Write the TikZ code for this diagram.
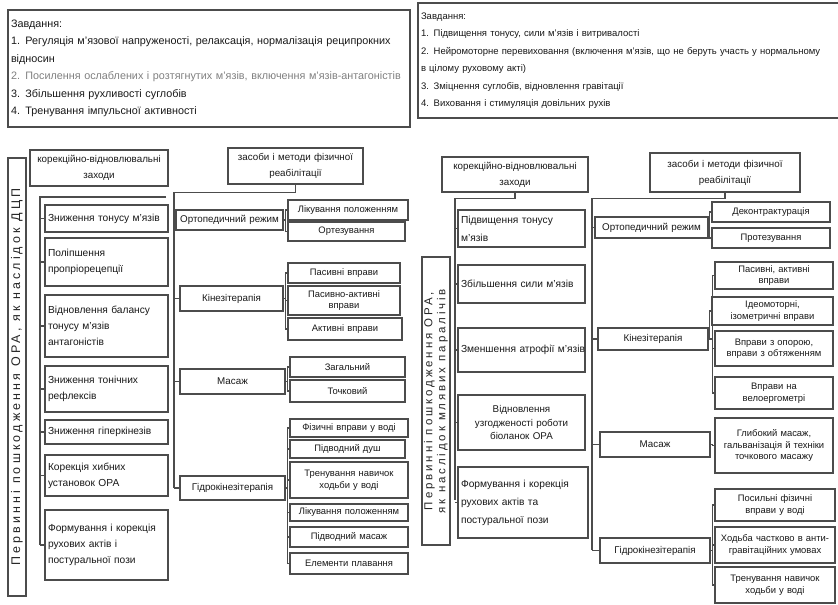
\documentclass[tikz,border=0pt]{standalone}
\usepackage{fontspec}
\setmainfont{Liberation Sans}
\newfontfamily\lblfont[LetterSpace=25]{Liberation Sans}
\newcommand\bxnode[7][]{%
  \pgfmathsetmacro\bxw{#4-#2}\pgfmathsetmacro\bxh{#5-#3}%
  \pgfmathsetmacro\bxcx{(#2+#4)/2}\pgfmathsetmacro\bxcy{(#3+#5)/2}%
  \pgfmathsetmacro\bxtw{#4-#2-6}%
  \node[bx,minimum width=\bxw pt,minimum height=\bxh pt,text width=\bxtw pt,#1] (#6) at (\bxcx,\bxcy) {#7};}
\tikzset{
  bx/.style={draw=black!70, line width=1.2pt, inner sep=2pt, text=black!90, align=left,
    font=\fontsize{10.2}{16}\selectfont},
  sub/.style={align=center, font=\fontsize{9.4}{11.5}\selectfont},
  ctr/.style={align=center, font=\fontsize{9.8}{16}\selectfont},
  big/.style={font=\fontsize{10.2}{18}\selectfont},
  ln/.style={draw=black!70, line width=1.1pt},
  vlab/.style={draw=black!70, line width=1.2pt, rotate=90, text=black!85, align=center, inner sep=1pt}
}
\begin{document}
\begin{tikzpicture}[x=1pt,y=-1pt]
\useasboundingbox (0,0) rectangle (838,605);
\clip (0,0) rectangle (838,605);
\fill[white] (0,0) rectangle (838,605);

% ---------- top boxes ----------
\bxnode[font=\fontsize{10.8}{17.5}\selectfont]{8}{10}{410}{127}{tL}{Завдання:\\
\mbox{1. Регуляція м'язової напруженості, релаксація, нормалізація реципрокних}\\
відносин\\
\mbox{\color{black!50}2. Посилення ослаблених і розтягнутих м'язів, включення м'язів-антагоністів}\\
3. Збільшення рухливості суглобів\\
4. Тренування імпульсної активності}
\bxnode[font=\fontsize{9.5}{17.5}\selectfont]{418}{3}{850}{118}{tR}{Завдання:\\
1. Підвищення тонусу, сили м'язів і витривалості\\
\mbox{2. Нейромоторне перевиховання (включення м'язів, що не беруть участь у нормальному}\\
в цілому руховому акті)\\
3. Зміцнення суглобів, відновлення гравітації\\
4. Виховання і стимуляція довільних рухів}

% ---------- left diagram ----------
\node[vlab, minimum width=438pt, minimum height=18pt, font=\lblfont\fontsize{12.5}{14}\selectfont] (vL) at (17,377) {Первинні пошкодження ОРА, як наслідок ДЦП};

\bxnode[ctr]{30}{150}{168}{186}{hL}{корекційно-відновлювальні\\заходи}
\bxnode{45}{205}{168}{232}{a1}{Зниження тонусу м'язів}
\bxnode{45}{238}{168}{286}{a2}{Поліпшення\\пропріорецепції}
\bxnode{45}{295}{168}{357}{a3}{Відновлення балансу\\тонусу м'язів\\антагоністів}
\bxnode{45}{366}{168}{412}{a4}{Зниження тонічних\\рефлексів}
\bxnode{45}{420}{168}{444}{a5}{Зниження гіперкінезів}
\bxnode{45}{455}{168}{496}{a6}{Корекція хибних\\установок ОРА}
\bxnode{45}{510}{168}{580}{a7}{Формування і корекція\\рухових актів і\\постуральної пози}

\coordinate (lB) at (166,197);
\coordinate (lC) at (40,545);
\draw[ln] (lB) -| (lC);
\foreach \n in {a1,a2,a3,a4,a5,a6,a7} \draw[ln] (\n.west) -- (\n.west -| lC);

\bxnode[ctr]{228}{148}{363}{184}{hM}{засоби і методи фізичної\\реабілітації}
\bxnode[ctr]{176}{210}{283}{230}{c1}{Ортопедичний режим}
\bxnode[ctr]{180}{286}{283}{311}{c2}{Кінезітерапія}
\bxnode[ctr]{180}{369}{285}{394}{c3}{Масаж}
\bxnode[ctr]{180}{476}{285}{500}{c4}{Гідрокінезітерапія}

\coordinate (mC) at (174,488);
\draw[ln] (hM.south) -- ++(0,8) -| (mC);
\foreach \n in {c1,c2,c3,c4} \draw[ln] (\n.west) -- (\n.west -| mC);

\bxnode[sub]{288}{200}{408}{220}{s11}{Лікування положенням}
\bxnode[sub]{288}{222}{405}{241}{s12}{Ортезування}
\bxnode[sub]{288}{263}{400}{283}{s21}{Пасивні вправи}
\bxnode[sub]{288}{286}{400}{315}{s22}{Пасивно-активні\\вправи}
\bxnode[sub]{288}{318}{402}{340}{s23}{Активні вправи}
\bxnode[sub]{290}{357}{405}{377}{s31}{Загальний}
\bxnode[sub]{290}{380}{405}{402}{s32}{Точковий}
\bxnode[sub]{290}{419}{408}{437}{s41}{Фізичні вправи у воді}
\bxnode[sub]{290}{440}{405}{458}{s42}{Підводний душ}
\bxnode[sub]{290}{462}{408}{498}{s43}{Тренування навичок\\ходьби у воді}
\bxnode[sub]{290}{504}{408}{521}{s44}{Лікування положенням}
\bxnode[sub]{290}{527}{408}{547}{s45}{Підводний масаж}
\bxnode[sub]{290}{553}{408}{574}{s46}{Елементи плавання}

\foreach \c/\s in {c1/s11,c1/s12,c2/s21,c2/s22,c2/s23,c3/s31,c3/s32,c4/s41,c4/s42,c4/s43,c4/s44,c4/s45,c4/s46}
  \draw[ln] (\c.east) -| ([xshift=-2pt]\s.west) -- (\s.west);

% ---------- right diagram ----------
\node[vlab, minimum width=288pt, minimum height=28pt, font=\lblfont\fontsize{11.5}{13}\selectfont] (vR) at (436,401) {Первинні пошкодження ОРА,\\як наслідок млявих паралічів};

\bxnode[ctr]{442}{157}{588}{192}{hR}{корекційно-відновлювальні\\заходи}
\bxnode[big]{458}{210}{585}{247}{b1}{Підвищення тонусу\\м'язів}
\bxnode[big]{458}{265}{585}{303}{b2}{Збільшення сили м'язів}
\bxnode[big]{458}{328}{585}{372}{b3}{\mbox{Зменшення атрофії м'язів}}
\bxnode[ctr,font=\fontsize{9.8}{13.5}\selectfont]{458}{395}{585}{450}{b4}{Відновлення\\узгодженості роботи\\біоланок ОРА}
\bxnode[big]{458}{467}{588}{538}{b5}{Формування і корекція\\рухових актів та\\постуральної пози}

\coordinate (rC) at (455,500);
\draw[ln] (hR.south) -- ++(0,6) -| (rC);
\foreach \n in {b1,b2,b3,b4,b5} \draw[ln] (\n.west) -- (\n.west -| rC);

\bxnode[ctr]{650}{153}{800}{192}{hN}{засоби і методи фізичної\\реабілітації}
\bxnode[ctr]{595}{217}{708}{238}{d1}{Ортопедичний режим}
\bxnode[ctr]{598}{328}{708}{350}{d2}{Кінезітерапія}
\bxnode[ctr]{600}{432}{710}{457}{d3}{Масаж}
\bxnode[ctr]{600}{538}{710}{563}{d4}{Гідрокінезітерапія}

\coordinate (nC) at (592,550);
\draw[ln] (hN.south) -- ++(0,6) -| (nC);
\foreach \n in {d1,d2,d3,d4} \draw[ln] (\n.west) -- (\n.west -| nC);

\bxnode[sub]{712}{202}{830}{222}{e11}{Деконтрактурація}
\bxnode[sub]{712}{228}{830}{248}{e12}{Протезування}
\bxnode[sub]{715}{262}{833}{289}{e21}{Пасивні, активні\\вправи}
\bxnode[sub]{712}{297}{833}{325}{e22}{Ідеомоторні,\\ізометричні вправи}
\bxnode[sub]{715}{331}{833}{366}{e23}{Вправи з опорою,\\вправи з обтяженням}
\bxnode[sub]{715}{377}{833}{409}{e24}{Вправи на\\велоергометрі}
\bxnode[sub]{715}{418}{833}{473}{e31}{Глибокий масаж,\\гальванізація й техніки\\точкового масажу}
\bxnode[sub]{715}{489}{835}{521}{e41}{Посильні фізичні\\вправи у воді}
\bxnode[sub]{715}{527}{835}{563}{e42}{Ходьба частково в анти-\\гравітаційних умовах}
\bxnode[sub]{715}{567}{835}{603}{e43}{Тренування навичок\\ходьби у воді}

\foreach \c/\s in {d1/e11,d1/e12,d2/e21,d2/e22,d2/e23,d2/e24,d3/e31,d4/e41,d4/e42,d4/e43}
  \draw[ln] (\c.east) -| ([xshift=-2pt]\s.west) -- (\s.west);
\end{tikzpicture}
\end{document}
